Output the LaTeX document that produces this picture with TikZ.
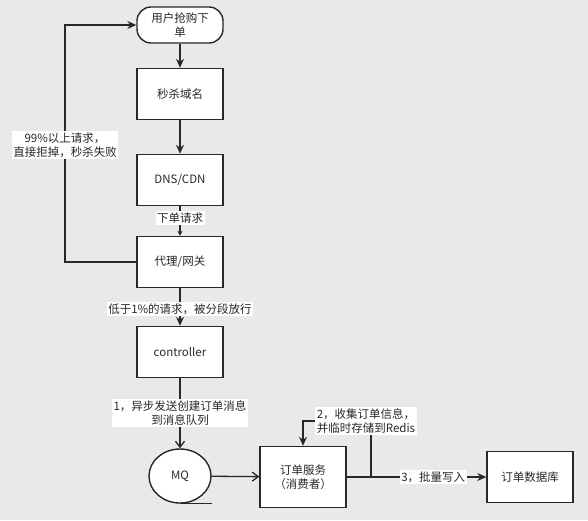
\documentclass[tikz,border=0pt]{standalone}
\usepackage{fontspec}
\setmainfont{Noto Sans CJK SC}
\usetikzlibrary{arrows.meta,shapes.geometric}
\definecolor{bg}{RGB}{233,233,233}
\definecolor{ink}{RGB}{40,40,40}

\begin{document}
\begin{tikzpicture}[
		x=1pt, y=-1pt,
		line width=1.3pt,
		draw=ink,
		>={Stealth[length=9pt,width=8pt]},
		every node/.style={font=\fontsize{11.5}{14}\selectfont, text=ink},
		block/.style={draw=ink, line width=1.4pt, fill=white, minimum width=86pt, minimum height=51pt, align=center},
		startbox/.style={block, rounded corners=14pt, minimum height=36pt},
		store/.style={draw=ink, line width=1.4pt, fill=white, ellipse, minimum width=62pt, minimum height=54pt},
		lbl/.style={fill=white, inner sep=1.5pt, align=center},
		open/.style={-{Straight Barb[length=6pt,width=9pt]}}
	]

		\useasboundingbox[fill=bg] (0,0) rectangle (588,520);

		% Boxes
		\node[startbox] (start) at (180,25) {用户抢购下\\单};
		\node[block] (domain) at (180,94) {秒杀域名};
		\node[block] (cdn) at (180,180) {DNS/CDN};
		\node[block] (gate) at (180,262) {代理/网关};
		\node[block] (ctrl) at (180,352) {controller};
		\node[store] (mq) at (180,476) {MQ};
		\node[block, minimum height=61pt] (order) at (303,477) {订单服务\\（消费者）};
		\node[block] (db) at (530,477) {订单数据库};

		% Corners
		\coordinate (back) at (65,25);
		\coordinate (redis) at (371,421);

		% Connectors
		\draw[->, draw=ink] (start) -- (domain);
		\draw[->, draw=ink] (domain) -- (cdn);
		\draw[->, draw=ink, >={Stealth[length=5pt,width=5pt]}] (cdn) -- (gate)
			node[lbl, pos=0.4] {下单请求};
		\draw[->, draw=ink] (gate.west) -| (back) -- (start.west);
		\node[lbl] at (65,145) {99\%以上请求，\\直接拒掉，秒杀失败};
		\draw[->, draw=ink] (gate) -- (ctrl)
			node[lbl, pos=0.55] {低于1\%的请求，被分段放行};
		\draw[open, draw=ink] (ctrl) -- (mq)
			node[lbl, pos=0.5] {1，异步发送创建订单消息\\到消息队列};
		\draw[draw=ink] (mq.south) -- ++(32,0);
		\draw[open, draw=ink] (mq) -- (order);
		\draw[->, draw=ink] (order.east) -| (redis) -| (order.north);
		\node[lbl, align=left] at (366,421) {2，收集订单信息，\\并临时存储到Redis};
		\draw[->, draw=ink] (order) -- (db)
			node[lbl, pos=0.62] {3，批量写入};
	\end{tikzpicture}
\end{document}
